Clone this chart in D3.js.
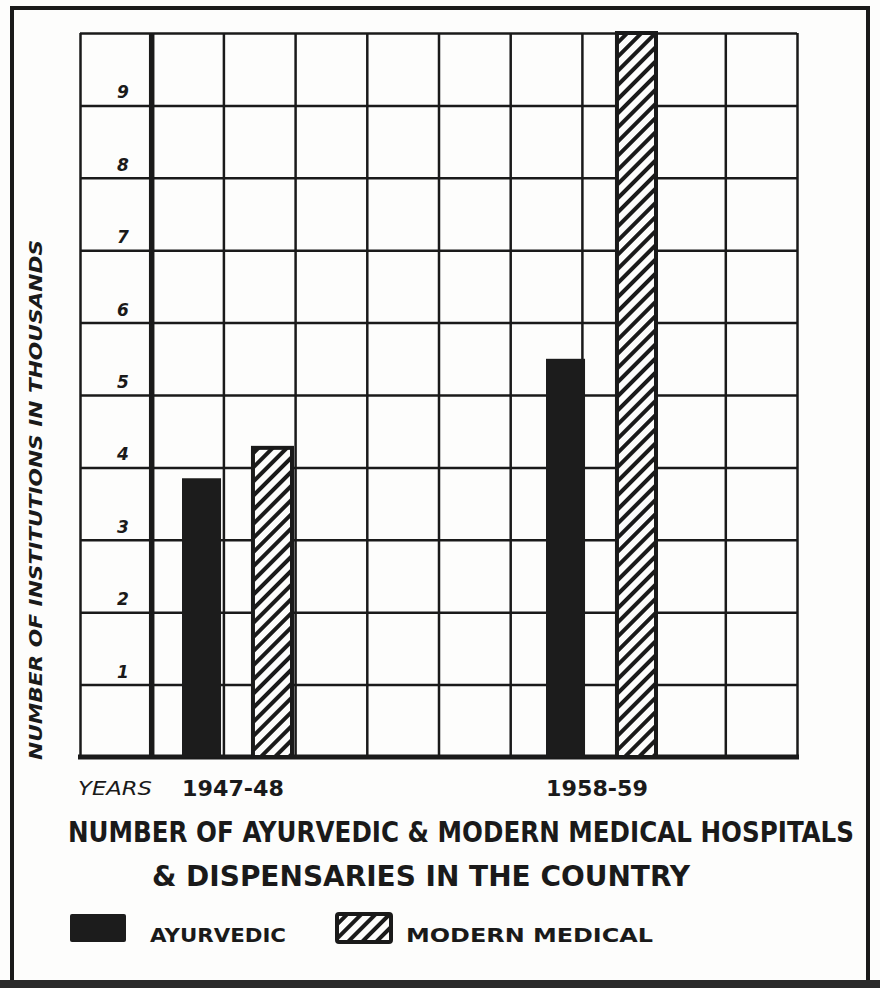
<!DOCTYPE html>
<html>
<head>
<meta charset="utf-8">
<script src="https://cdn.jsdelivr.net/npm/d3@7"></script>
<style>
  html, body { margin: 0; padding: 0; background: #fdfdfc; }
  svg { display: block; }
  text { fill: #1a1a1a; font-family: "DejaVu Sans", sans-serif; font-weight: bold; }
</style>
</head>
<body>
<div id="chart"></div>
<script>
// values in thousands
var years = ["1947-48", "1958-59"];
var series = ["AYURVEDIC", "MODERN MEDICAL"];
var ayurvedic = [3.85, 5.5];
var modern = [4.27, 10];
var yTicks = [1, 2, 3, 4, 5, 6, 7, 8, 9];
var titleLines = ["NUMBER OF AYURVEDIC & MODERN MEDICAL HOSPITALS", "& DISPENSARIES IN THE COUNTRY"];
var yTitle = "NUMBER OF INSTITUTIONS IN THOUSANDS";
var xTitle = "YEARS";

var width = 880, height = 988;
var ink = "#1a1a1a";
var grid = { left: 80, top: 33, right: 797, bottom: 757 };

var svg = d3.select("#chart")
    .append("svg")
    .attr("width", width)
    .attr("height", height);

// hatch pattern for modern medical
var defs = svg.append("defs");
var pat = defs.append("pattern")
    .attr("id", "hatch")
    .attr("patternUnits", "userSpaceOnUse")
    .attr("width", 10)
    .attr("height", 10)
    .attr("patternTransform", "rotate(45)");
pat.append("rect").attr("width", 10).attr("height", 10).attr("fill", "#fdfdfc");
pat.append("rect").attr("x", 0).attr("width", 4).attr("height", 10).attr("fill", ink);

// outer frame
svg.append("rect")
    .attr("x", 12).attr("y", 8)
    .attr("width", 856).attr("height", 975)
    .attr("fill", "none")
    .attr("stroke", ink)
    .attr("stroke-width", 4);
svg.append("line")
    .attr("x1", 0).attr("x2", width)
    .attr("y1", 984).attr("y2", 984)
    .attr("stroke", "#2a2a2a")
    .attr("stroke-width", 8);

// scales
var y = d3.scaleLinear()
    .domain([0, 10])
    .range([grid.bottom, grid.top]);

var col = d3.scaleLinear()
    .domain([0, 10])
    .range([grid.left, grid.right]);

var x0 = d3.scalePoint()
    .domain(years)
    .range([237, 601]);

var x1 = d3.scaleBand()
    .domain(series)
    .range([-55, 55])
    .paddingInner(0.45);

// horizontal grid
svg.append("g")
    .attr("class", "hgrid")
    .attr("transform", "translate(" + grid.left + ",0)")
    .call(d3.axisLeft(y).ticks(10).tickSize(-(grid.right - grid.left)).tickFormat(""))
    .call(g => g.select(".domain").remove())
    .selectAll("line")
    .attr("stroke", ink)
    .attr("stroke-width", 2.5);

// vertical grid
svg.append("g")
    .attr("class", "vgrid")
    .attr("transform", "translate(0," + grid.bottom + ")")
    .call(d3.axisBottom(col).ticks(10).tickSize(-(grid.bottom - grid.top)).tickFormat(""))
    .call(g => g.select(".domain").remove())
    .selectAll("line")
    .attr("stroke", ink)
    .attr("stroke-width", 2.5);

// thick baseline and y axis
svg.append("line")
    .attr("x1", grid.left - 2).attr("x2", grid.right + 2)
    .attr("y1", y(0)).attr("y2", y(0))
    .attr("stroke", ink).attr("stroke-width", 5);
svg.append("line")
    .attr("x1", col(1)).attr("x2", col(1))
    .attr("y1", y(10)).attr("y2", y(0))
    .attr("stroke", ink).attr("stroke-width", 5.5);

// y tick labels, inside first column just above each line
svg.append("g")
    .selectAll("text")
    .data(yTicks)
    .enter()
    .append("text")
    .attr("x", 123)
    .attr("y", d => y(d) - 7)
    .attr("text-anchor", "middle")
    .attr("font-size", 17)
    .attr("font-style", "italic")
    .text(d => d);

// bars
var rows = years.map((yr, i) => ({ year: yr, values: [ayurvedic[i], modern[i]] }));
var groups = svg.selectAll("g.year")
    .data(rows)
    .enter()
    .append("g")
    .attr("class", "year")
    .attr("transform", d => "translate(" + x0(d.year) + ",0)");

groups.selectAll("rect")
    .data(d => d.values.map((v, j) => ({ key: series[j], value: v })))
    .enter()
    .append("rect")
    .attr("x", d => x1(d.key))
    .attr("y", d => y(d.value))
    .attr("width", x1.bandwidth())
    .attr("height", d => y(0) - y(d.value))
    .attr("fill", d => d.key === series[0] ? "#1c1c1c" : "url(#hatch)")
    .attr("stroke", ink)
    .attr("stroke-width", d => d.key === series[0] ? 0 : 4);

// x labels
svg.append("text")
    .attr("x", 78).attr("y", 795)
    .attr("font-size", 20)
    .attr("font-style", "italic")
    .style("font-weight", "normal")
    .attr("textLength", 74)
    .attr("lengthAdjust", "spacingAndGlyphs")
    .text(xTitle);

svg.append("g")
    .selectAll("text")
    .data(years)
    .enter()
    .append("text")
    .attr("x", d => x0(d) - 4)
    .attr("y", 796)
    .attr("text-anchor", "middle")
    .attr("font-size", 22)
    .attr("textLength", 102)
    .attr("lengthAdjust", "spacingAndGlyphs")
    .text(d => d);

// y title
svg.append("text")
    .attr("transform", "translate(42,500) rotate(-90)")
    .attr("text-anchor", "middle")
    .attr("font-size", 17)
    .attr("font-style", "italic")
    .style("font-weight", "600")
    .attr("textLength", 520)
    .attr("lengthAdjust", "spacingAndGlyphs")
    .text(yTitle);

// title, condensed face stretched a little taller like the hand lettering
var title = svg.append("g")
    .selectAll("text")
    .data(titleLines)
    .enter()
    .append("text")
    .attr("transform", (d, i) => i === 0 ? "translate(68,842) scale(1,1.15)" : "translate(152,886) scale(1,1.15)")
    .style("font-family", "'DejaVu Sans Condensed', 'DejaVu Sans', sans-serif")
    .attr("font-size", 25)
    .attr("textLength", (d, i) => i === 0 ? 786 : 538)
    .attr("lengthAdjust", "spacingAndGlyphs")
    .text(d => d);

// legend
var legend = [
    { key: series[0], x: 70, w: 56, tx: 150, tl: 136 },
    { key: series[1], x: 337, w: 54, tx: 406, tl: 247 }
];
var lg = svg.append("g").selectAll("g")
    .data(legend)
    .enter()
    .append("g");
lg.append("rect")
    .attr("x", d => d.x)
    .attr("y", 914)
    .attr("width", d => d.w)
    .attr("height", 28)
    .attr("rx", 2)
    .attr("fill", d => d.key === series[0] ? "#1c1c1c" : "url(#hatch)")
    .attr("stroke", ink)
    .attr("stroke-width", d => d.key === series[0] ? 0 : 4);
lg.append("text")
    .attr("x", d => d.tx)
    .attr("y", 942)
    .attr("font-size", 20)
    .attr("textLength", d => d.tl)
    .attr("lengthAdjust", "spacingAndGlyphs")
    .text(d => d.key);
</script>
</body>
</html>
